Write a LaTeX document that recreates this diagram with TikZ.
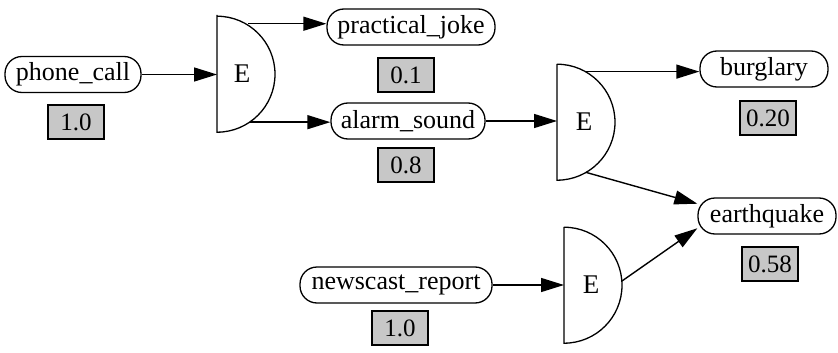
\documentclass[tikz,border=0pt]{standalone}
\usepackage{fontspec}
\setmainfont{Liberation Serif}
\usetikzlibrary{arrows.meta,calc}

\tikzset{
  var/.style={draw, line width=1.3pt, rectangle, rounded corners=17pt,
    minimum height=36pt, inner sep=0pt,
    font=\fontsize{26}{30}\selectfont},
  prob/.style={draw, line width=1.1pt, fill=black!22, minimum width=56pt,
    minimum height=34pt, inner sep=0pt, font=\fontsize{25}{28}\selectfont},
  gate/.style={circle, draw=none, inner sep=0pt, minimum size=#1},
  gateline/.style={line width=1.3pt},
  glabel/.style={font=\fontsize{27}{30}\selectfont, inner sep=0pt},
  arr/.style={line width=1.4pt, -{Triangle[length=23pt,width=14pt]}}
}

\begin{document}
\begin{tikzpicture}[x=1pt, y=-1pt]
\useasboundingbox (0,0) rectangle (838,353);

% variables
\node[var, minimum width=136pt] (phone) at (73,74.5) {phone\_call};
\node[var, minimum width=168pt] (joke)  at (411,27) {practical\_joke};
\node[var, minimum width=154pt] (alarm) at (408,121) {alarm\_sound};
\node[var, minimum width=128pt] (burg)  at (764,69) {burglary};
\node[var, minimum width=138pt] (quake) at (767,216) {earthquake};
\node[var, minimum width=192pt] (news)  at (396,285) {newscast\_report};

% probabilities
\node[prob] (pphone) at (76,122) {1.0};
\node[prob] (pjoke)  at (406,75) {0.1};
\node[prob] (palarm) at (406,165) {0.8};
\node[prob] (pburg)  at (768,118) {0.20};
\node[prob] (pquake) at (770,264) {0.58};
\node[prob] (pnews)  at (400,328) {1.0};

% explanation gates: flat side through the node centre, arc to the right
\node[gate=117pt] (g1) at (217,73.5) {};
\node[gate=116pt] (g2) at (557,122) {};
\node[gate=116pt] (g3) at (564,285) {};
\foreach \g in {g1,g2,g3}
  \draw[gateline] (\g.north) -- (\g.south) arc[start angle=-90, end angle=90, radius=58pt];

\node[glabel] (e1) at ($(g1.center)+(25,0)$) {E};
\node[glabel] (e2) at ($(g2.center)+(27,0)$) {E};
\node[glabel] (e3) at ($(g3.center)+(27,0)$) {E};

% connectors
\draw[arr] (phone.east) -- (phone.east -| g1.center);
\draw[arr] (g1.58) -- (g1.58 -| joke.west);
\draw[arr] (g1.-56) -- (g1.-56 -| alarm.west);
\draw[arr] (alarm.east) -- (alarm.east -| g2.center);
\draw[arr] (g2.60) -- (g2.60 -| burg.west);
\draw[arr] (g2.-60) -- (quake.170);
\draw[arr] (news.east) -- (news.east -| g3.center);
\draw[arr] (g3.4) -- (quake.190);
\end{tikzpicture}
\end{document}
